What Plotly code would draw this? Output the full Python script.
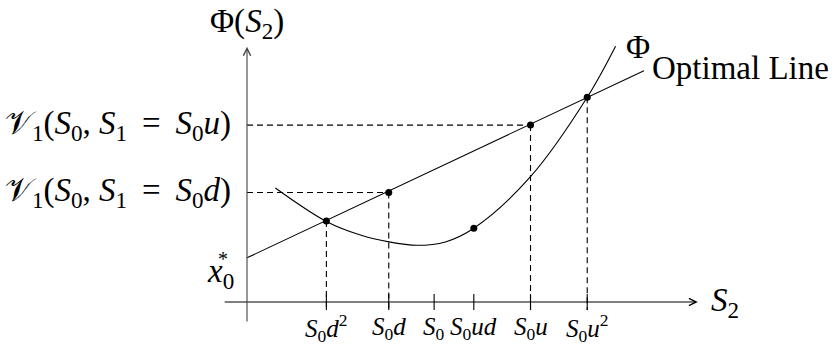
import plotly.graph_objects as go

# ---- data (diagram units; origin at the axes crossing) ----
tick_x = [1.4, 2.5, 3.3, 4.0, 5.0, 6.0]
tick_labels = ["<i>S</i><sub>0</sub><i>d</i><sup>2</sup>", "<i>S</i><sub>0</sub><i>d</i>",
               "<i>S</i><sub>0</sub>", "<i>S</i><sub>0</sub><i>ud</i>",
               "<i>S</i><sub>0</sub><i>u</i>", "<i>S</i><sub>0</sub><i>u</i><sup>2</sup>"]

line_x = [0.0, 7.0]
line_y = [0.78, 4.08]

curve_x = [0.5, 1.4, 2.0, 2.5, 3.0, 3.5, 4.0, 5.0, 6.0, 6.5]
curve_y = [2.01, 1.42, 1.18, 1.06, 1.00, 1.06, 1.30, 2.21, 3.61, 4.51]

point_x = [1.4, 2.5, 4.0, 5.0, 6.0]
point_y = [1.43, 1.93, 1.30, 3.12, 3.61]

drop_x = [1.4, 2.5, 5.0, 6.0]
drop_y = [1.43, 1.93, 3.12, 3.61]

level_y = [3.12, 1.93]
level_x = [5.0, 2.5]
level_labels = ["𝒱<sub>1</sub>(<i>S</i><sub>0</sub>, <i>S</i><sub>1</sub> \u2009=\u2009 <i>S</i><sub>0</sub><i>u</i>)",
                "𝒱<sub>1</sub>(<i>S</i><sub>0</sub>, <i>S</i><sub>1</sub> \u2009=\u2009 <i>S</i><sub>0</sub><i>d</i>)"]

FONT = "Liberation Serif"
BIG = 33
SMALL = 25
fig = go.Figure()

# dashed drop lines
for xv, yv in zip(drop_x, drop_y):
    fig.add_trace(go.Scatter(x=[xv, xv], y=[yv, -0.14], mode="lines",
                             line=dict(color="black", width=1.1, dash="6px,4px"),
                             hoverinfo="skip", showlegend=False))
for xv, yv in zip(level_x, level_y):
    fig.add_trace(go.Scatter(x=[0, xv], y=[yv, yv], mode="lines",
                             line=dict(color="black", width=1.1, dash="6px,4px"),
                             hoverinfo="skip", showlegend=False))

# ticks
for xv in tick_x:
    fig.add_trace(go.Scatter(x=[xv, xv], y=[0.14, -0.14], mode="lines",
                             line=dict(color="black", width=1.1),
                             hoverinfo="skip", showlegend=False))

# optimal line
fig.add_trace(go.Scatter(x=line_x, y=line_y, mode="lines",
                         line=dict(color="black", width=1.1), showlegend=False))
# Phi curve
fig.add_trace(go.Scatter(x=curve_x, y=curve_y, mode="lines",
                         line=dict(color="black", width=1.1, shape="spline", smoothing=1.0),
                         showlegend=False))
# points
fig.add_trace(go.Scatter(x=point_x, y=point_y, mode="markers",
                         marker=dict(color="black", size=7), showlegend=False))

# axes with arrows
fig.add_annotation(x=7.95, y=0, ax=-0.42, ay=0, xref="x", yref="y", axref="x", ayref="y",
                   text="", showarrow=True, arrowhead=5, arrowsize=1.3, arrowwidth=1.1,
                   arrowcolor="black", standoff=0, startstandoff=0)
fig.add_annotation(x=0, y=4.5, ax=0, ay=-0.37, xref="x", yref="y", axref="x", ayref="y",
                   text="", showarrow=True, arrowhead=5, arrowsize=1.3, arrowwidth=1.1,
                   arrowcolor="#444", standoff=0, startstandoff=0)

def label(x, y, text, size, xanchor="center", yanchor="middle"):
    fig.add_annotation(x=x, y=y, xref="x", yref="y", text=text, showarrow=False,
                       xanchor=xanchor, yanchor=yanchor,
                       font=dict(family=FONT, size=size, color="black"))

for xv, t in zip(tick_x, tick_labels):
    label(xv, -0.46, t, SMALL)

for yv, t in zip(level_y, level_labels):
    label(-0.25, yv, t, BIG, xanchor="right")

label(-0.2, 0.5, "<i>x</i><sub>0</sub>", BIG, xanchor="right")
label(-0.42, 0.76, "*", 20)
label(0, 4.92, "Φ(<i>S</i><sub>2</sub>)", BIG)
label(8.15, 0, "<i>S</i><sub>2</sub>", BIG, xanchor="left")
label(6.65, 4.5, "Φ", BIG, xanchor="left")
label(7.1, 4.12, "Optimal Line", BIG, xanchor="left")

fig.update_layout(
    width=840, height=345, margin=dict(l=0, r=0, t=0, b=0),
    paper_bgcolor="white", plot_bgcolor="white",
    xaxis=dict(range=[-4.356, 10.458], visible=False, showgrid=False, zeroline=False),
    yaxis=dict(range=[-0.758, 5.326], visible=False, showgrid=False, zeroline=False),
)

fig.write_html("out.html", config={"displayModeBar": False},
               post_script="document.body.style.margin='0px';")
